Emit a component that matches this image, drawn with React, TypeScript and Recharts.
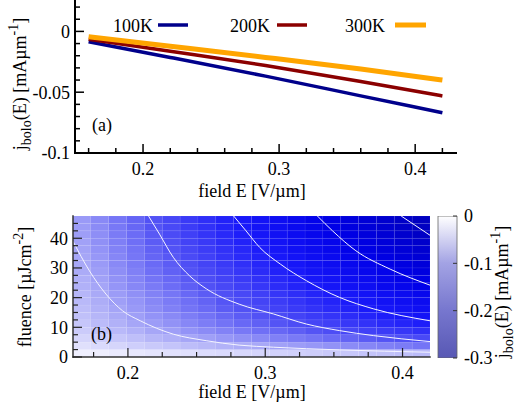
import React from "react";
import {
  Bar,
  BarChart,
  ComposedChart,
  Line,
  LineChart,
  ReferenceArea,
  XAxis,
  YAxis,
} from "recharts";

/* Two stacked panels: (a) j_bolo vs field for three temperatures,
   (b) j_bolo over field x fluence as a cell map with contours and colour bar. */

const FONT = "'Liberation Serif', 'Times New Roman', Tinos, 'DejaVu Serif', 'Noto Serif', serif";
const NAVY = "#00008b";
const DARK_RED = "#8b0000";
const ORANGE = "#ffa500";

// ---- panel (a)
const E_TOP = [0.16, 0.22, 0.29, 0.36, 0.42];
const J_100K = [-0.0085, -0.0214, -0.0368, -0.053, -0.0669];
const J_200K = [-0.0065, -0.0163, -0.028, -0.0412, -0.0531];
const J_300K = [-0.0044, -0.0122, -0.0214, -0.031, -0.04];

const TOP_X_TICKS = [0.16, 0.18, 0.2, 0.22, 0.24, 0.26, 0.28, 0.3, 0.32, 0.34, 0.36, 0.38, 0.4, 0.42];
const TOP_X_MAJOR = [0.2, 0.3, 0.4];
const TOP_Y_TICKS = [-0.1, -0.09, -0.08, -0.07, -0.06, -0.05, -0.04, -0.03, -0.02, -0.01, 0, 0.01, 0.02];
const TOP_Y_MAJOR = [-0.1, -0.05, 0];

// ---- panel (b)
const MAP_E_EDGES = [
  0.16, 0.173, 0.186, 0.199, 0.212, 0.225, 0.238, 0.251, 0.264, 0.277, 0.29,
  0.303, 0.316, 0.329, 0.342, 0.355, 0.368, 0.381, 0.394, 0.407, 0.42,
];
const MAP_F_EDGES = [
  0, 2.5, 5, 7.5, 10, 12.5, 15, 17.5, 20, 22.5, 25, 27.5, 30, 32.5, 35, 37.5, 40, 42.5, 45, 47.5,
];
// rows: fluence from bottom to top, columns: field from left to right
const MAP_J = [
  [-0.009, -0.010, -0.012, -0.013, -0.015, -0.017, -0.018, -0.020, -0.021, -0.023, -0.024, -0.026, -0.027, -0.029, -0.031, -0.032, -0.034, -0.035, -0.037, -0.039],
  [-0.018, -0.021, -0.024, -0.028, -0.031, -0.034, -0.038, -0.041, -0.044, -0.047, -0.050, -0.054, -0.057, -0.060, -0.063, -0.067, -0.070, -0.073, -0.076, -0.080],
  [-0.024, -0.029, -0.033, -0.037, -0.042, -0.046, -0.051, -0.055, -0.060, -0.064, -0.068, -0.073, -0.077, -0.081, -0.086, -0.090, -0.095, -0.099, -0.103, -0.108],
  [-0.030, -0.035, -0.040, -0.045, -0.051, -0.056, -0.062, -0.067, -0.072, -0.078, -0.083, -0.088, -0.093, -0.099, -0.104, -0.110, -0.115, -0.120, -0.125, -0.131],
  [-0.033, -0.039, -0.045, -0.051, -0.057, -0.063, -0.069, -0.075, -0.081, -0.087, -0.092, -0.099, -0.104, -0.111, -0.116, -0.123, -0.128, -0.135, -0.140, -0.146],
  [-0.036, -0.042, -0.049, -0.055, -0.062, -0.068, -0.075, -0.081, -0.088, -0.094, -0.100, -0.107, -0.113, -0.120, -0.126, -0.133, -0.140, -0.146, -0.153, -0.159],
  [-0.038, -0.045, -0.052, -0.059, -0.066, -0.073, -0.080, -0.086, -0.094, -0.100, -0.107, -0.114, -0.121, -0.128, -0.135, -0.142, -0.149, -0.156, -0.162, -0.170],
  [-0.040, -0.047, -0.055, -0.061, -0.069, -0.076, -0.083, -0.090, -0.098, -0.105, -0.112, -0.119, -0.126, -0.134, -0.141, -0.148, -0.155, -0.163, -0.170, -0.177],
  [-0.042, -0.049, -0.057, -0.064, -0.072, -0.079, -0.087, -0.094, -0.102, -0.109, -0.117, -0.125, -0.132, -0.140, -0.147, -0.155, -0.162, -0.170, -0.177, -0.185],
  [-0.045, -0.052, -0.061, -0.069, -0.077, -0.085, -0.093, -0.101, -0.109, -0.117, -0.125, -0.133, -0.141, -0.149, -0.157, -0.166, -0.173, -0.182, -0.189, -0.198],
  [-0.046, -0.054, -0.063, -0.071, -0.080, -0.087, -0.096, -0.104, -0.113, -0.121, -0.129, -0.138, -0.145, -0.154, -0.162, -0.171, -0.179, -0.188, -0.196, -0.204],
  [-0.048, -0.056, -0.065, -0.073, -0.083, -0.091, -0.100, -0.108, -0.117, -0.125, -0.134, -0.143, -0.151, -0.160, -0.168, -0.177, -0.186, -0.195, -0.203, -0.212],
  [-0.050, -0.058, -0.068, -0.076, -0.086, -0.094, -0.103, -0.112, -0.121, -0.130, -0.139, -0.148, -0.156, -0.166, -0.174, -0.184, -0.192, -0.202, -0.210, -0.220],
  [-0.051, -0.060, -0.070, -0.079, -0.089, -0.097, -0.107, -0.116, -0.126, -0.135, -0.143, -0.153, -0.162, -0.172, -0.181, -0.190, -0.199, -0.209, -0.218, -0.227],
  [-0.053, -0.062, -0.072, -0.081, -0.091, -0.100, -0.110, -0.119, -0.129, -0.138, -0.147, -0.157, -0.167, -0.177, -0.186, -0.196, -0.205, -0.215, -0.224, -0.234],
  [-0.054, -0.064, -0.074, -0.083, -0.094, -0.103, -0.113, -0.122, -0.133, -0.142, -0.151, -0.162, -0.171, -0.181, -0.191, -0.201, -0.210, -0.221, -0.230, -0.240],
  [-0.056, -0.065, -0.076, -0.085, -0.096, -0.106, -0.116, -0.126, -0.136, -0.146, -0.156, -0.166, -0.176, -0.186, -0.196, -0.206, -0.216, -0.227, -0.236, -0.247],
  [-0.057, -0.067, -0.078, -0.088, -0.099, -0.108, -0.119, -0.129, -0.140, -0.150, -0.160, -0.170, -0.180, -0.191, -0.201, -0.212, -0.222, -0.232, -0.242, -0.253],
  [-0.058, -0.068, -0.079, -0.089, -0.100, -0.110, -0.121, -0.131, -0.142, -0.152, -0.162, -0.173, -0.183, -0.194, -0.204, -0.215, -0.225, -0.236, -0.246, -0.257],
];

// iso-lines at -0.05 ... -0.25, as [field, fluence]
const ISO_005 = [[0.16, 39], [0.172, 29], [0.184, 21.2], [0.196, 15.6], [0.209, 12.2], [0.233, 7.7], [0.257, 5.5], [0.281, 4.0], [0.306, 3.3], [0.354, 2.4], [0.42, 1.6]];
const ISO_010 = [[0.215, 47.5], [0.223, 41.4], [0.233, 33.6], [0.245, 27.3], [0.257, 23.0], [0.281, 17.8], [0.306, 14.5], [0.33, 11.1], [0.354, 8.9], [0.379, 7.2], [0.42, 5.2]];
const ISO_015 = [[0.277, 47.5], [0.286, 42.5], [0.296, 36.9], [0.311, 31.3], [0.33, 25.7], [0.354, 20.1], [0.379, 16.2], [0.42, 12.2]];
const ISO_020 = [[0.338, 47.5], [0.349, 42.5], [0.366, 35.8], [0.391, 29.6], [0.42, 24.2]];
const ISO_025 = [[0.399, 47.5], [0.42, 41]];
const ISO_LINES = [ISO_005, ISO_010, ISO_015, ISO_020, ISO_025];

const MAP_X_TICKS = [0.175, 0.2, 0.225, 0.25, 0.275, 0.3, 0.325, 0.35, 0.375, 0.4];
const MAP_X_MAJOR = [0.2, 0.3, 0.4];
const MAP_Y_TICKS = [0, 2.5, 5, 7.5, 10, 12.5, 15, 17.5, 20, 22.5, 25, 27.5, 30, 32.5, 35, 37.5, 40, 42.5, 45];
const MAP_Y_MAJOR = [0, 10, 20, 30, 40];

const CB_RANGE = [-0.3, 0];
const CB_TICKS = [0, -0.1, -0.2, -0.3];

// colour scale of the map: white -> blue -> deep blue
const MAP_STOPS: [number, number[]][] = [
  [0, [255, 255, 255]],
  [-0.05, [168, 168, 247]],
  [-0.1, [82, 82, 245]],
  [-0.15, [25, 25, 250]],
  [-0.2, [0, 0, 232]],
  [-0.25, [0, 0, 196]],
  [-0.3, [0, 0, 165]],
];

function mapColor(v: number) {
  for (let i = 0; i < MAP_STOPS.length - 1; i++) {
    const [v0, c0] = MAP_STOPS[i];
    const [v1, c1] = MAP_STOPS[i + 1];
    if (v <= v0 && v >= v1) {
      const t = (v0 - v) / (v0 - v1);
      const c = c0.map((k, j) => Math.round(k + (c1[j] - k) * t));
      return `rgb(${c[0]},${c[1]},${c[2]})`;
    }
  }
  const last = MAP_STOPS[MAP_STOPS.length - 1][1];
  return `rgb(${last[0]},${last[1]},${last[2]})`;
}

type Side = "bottom" | "top" | "left" | "right";
type TickStyle = { major: number; minor: number; color: string; width: number };

// inward tick marks on the frame, with labels outside for major values
function frameTick(side: Side, majors: number[], style: TickStyle, labelled: boolean) {
  return function FrameTick(props: any) {
    const x = Number(props.x);
    const y = Number(props.y);
    const v = Number(props.payload?.value);
    const big = majors.some((m) => Math.abs(m - v) < 1e-9);
    const len = big ? style.major : style.minor;
    const dx = side === "left" ? len : side === "right" ? -len : 0;
    const dy = side === "bottom" ? -len : side === "top" ? len : 0;
    const text = big && labelled ? String(v) : null;
    return (
      <g>
        <line x1={x} y1={y} x2={x + dx} y2={y + dy} stroke={style.color} strokeWidth={style.width} />
        {text !== null && side === "bottom" && (
          <text x={x} y={y + 22} textAnchor="middle" fontSize={18} fontFamily={FONT} fill="#000">
            {text}
          </text>
        )}
        {text !== null && side === "left" && (
          <text x={x - 5} y={y} dy="0.35em" textAnchor="end" fontSize={18} fontFamily={FONT} fill="#000">
            {text}
          </text>
        )}
        {text !== null && side === "right" && (
          <text x={x + 7} y={y} dy="0.35em" textAnchor="start" fontSize={18} fontFamily={FONT} fill="#000">
            {text}
          </text>
        )}
      </g>
    );
  };
}

const TOP_TICK: TickStyle = { major: 9, minor: 5, color: "#000", width: 1.5 };
const MAP_TICK: TickStyle = { major: 9, minor: 5, color: "#222", width: 1.2 };
const TOP_FRAME = { stroke: "#000", strokeWidth: 2, strokeLinecap: "square" as const };
const MAP_FRAME = { stroke: "#333", strokeWidth: 1.5, strokeLinecap: "square" as const };

function FieldTrace() {
  const data = E_TOP.map((E, i) => ({ E, j100: J_100K[i], j200: J_200K[i], j300: J_300K[i] }));
  return (
    <LineChart width={521} height={200} data={data} margin={{ top: 1, right: 65, bottom: 0, left: 15 }}>
      <Line dataKey="j100" stroke={NAVY} strokeWidth={3.5} dot={false} type="monotone" isAnimationActive={false} />
      <Line dataKey="j200" stroke={DARK_RED} strokeWidth={3.5} dot={false} type="monotone" isAnimationActive={false} />
      <Line dataKey="j300" stroke={ORANGE} strokeWidth={5} dot={false} type="monotone" isAnimationActive={false} />
      <XAxis
        dataKey="E"
        type="number"
        domain={[0.15, 0.43]}
        allowDataOverflow
        ticks={TOP_X_TICKS}
        interval={0}
        height={47}
        tickSize={0}
        tickMargin={0}
        tickLine={false}
        axisLine={TOP_FRAME}
        tick={frameTick("bottom", TOP_X_MAJOR, TOP_TICK, true)}
      />
      <XAxis
        xAxisId="top"
        orientation="top"
        dataKey="E"
        type="number"
        domain={[0.15, 0.43]}
        allowDataOverflow
        ticks={TOP_X_TICKS}
        interval={0}
        height={0}
        tickSize={0}
        tickMargin={0}
        tickLine={false}
        axisLine={TOP_FRAME}
        tick={frameTick("top", TOP_X_MAJOR, TOP_TICK, false)}
      />
      <YAxis
        type="number"
        domain={[-0.1, 0.025]}
        allowDataOverflow
        ticks={TOP_Y_TICKS}
        interval={0}
        width={60}
        tickSize={0}
        tickMargin={0}
        tickLine={false}
        axisLine={TOP_FRAME}
        tick={frameTick("left", TOP_Y_MAJOR, TOP_TICK, true)}
      />
      <YAxis
        yAxisId="right"
        orientation="right"
        type="number"
        domain={[-0.1, 0.025]}
        allowDataOverflow
        ticks={TOP_Y_TICKS}
        interval={0}
        width={0}
        tickSize={0}
        tickMargin={0}
        tickLine={false}
        axisLine={TOP_FRAME}
        tick={frameTick("right", TOP_Y_MAJOR, TOP_TICK, false)}
      />
    </LineChart>
  );
}

function FluenceMap() {
  return (
    <ComposedChart width={521} height={205} margin={{ top: 16, right: 91, bottom: 0, left: 13 }}>
      {MAP_J.map((row, r) =>
        row.map((v, c) => (
          <ReferenceArea
            key={`${r}-${c}`}
            x1={MAP_E_EDGES[c]}
            x2={MAP_E_EDGES[c + 1]}
            y1={MAP_F_EDGES[r]}
            y2={MAP_F_EDGES[r + 1]}
            fill={mapColor(v)}
            fillOpacity={1}
            stroke="#ffffff"
            strokeOpacity={0.07}
            strokeWidth={0.6}
            ifOverflow="visible"
          />
        )),
      )}
      {ISO_LINES.map((pts, i) => (
        <Line
          key={i}
          data={pts.map(([E, F]) => ({ E, F }))}
          dataKey="F"
          stroke="#f4f4ff"
          strokeWidth={1}
          dot={false}
          type="monotone"
          isAnimationActive={false}
        />
      ))}
      <XAxis
        dataKey="E"
        type="number"
        domain={[0.16, 0.42]}
        allowDataOverflow
        ticks={MAP_X_TICKS}
        interval={0}
        height={48}
        tickSize={0}
        tickMargin={0}
        tickLine={false}
        axisLine={MAP_FRAME}
        tick={frameTick("bottom", MAP_X_MAJOR, MAP_TICK, true)}
      />
      <XAxis
        xAxisId="top"
        orientation="top"
        dataKey="E"
        type="number"
        domain={[0.16, 0.42]}
        allowDataOverflow
        ticks={MAP_X_TICKS}
        interval={0}
        height={0}
        tickSize={0}
        tickMargin={0}
        tickLine={false}
        axisLine={MAP_FRAME}
        tick={frameTick("top", MAP_X_MAJOR, MAP_TICK, false)}
      />
      <YAxis
        type="number"
        domain={[0, 47.5]}
        allowDataOverflow
        ticks={MAP_Y_TICKS}
        interval={0}
        width={60}
        tickSize={0}
        tickMargin={0}
        tickLine={false}
        axisLine={MAP_FRAME}
        tick={frameTick("left", MAP_Y_MAJOR, MAP_TICK, true)}
      />
      <YAxis
        yAxisId="right"
        orientation="right"
        type="number"
        domain={[0, 47.5]}
        allowDataOverflow
        ticks={MAP_Y_TICKS}
        interval={0}
        width={0}
        tickSize={0}
        tickMargin={0}
        tickLine={false}
        axisLine={MAP_FRAME}
        tick={frameTick("right", MAP_Y_MAJOR, MAP_TICK, false)}
      />
    </ComposedChart>
  );
}

function ColourBar() {
  const data = [{ name: "j", range: CB_RANGE }];
  return (
    <BarChart
      width={91}
      height={205}
      data={data}
      margin={{ top: 16, right: 24, bottom: 47, left: 8 }}
      barCategoryGap={0}
    >
      <defs>
        <linearGradient id="cbFill" x1="0" y1="0" x2="0" y2="1">
          <stop offset="0%" stopColor="#ffffff" />
          <stop offset="33%" stopColor="#a3a3e4" />
          <stop offset="67%" stopColor="#7676ce" />
          <stop offset="100%" stopColor="#5858b4" />
        </linearGradient>
      </defs>
      <XAxis dataKey="name" type="category" hide />
      <Bar dataKey="range" fill="url(#cbFill)" stroke="#666" strokeWidth={0.8} isAnimationActive={false} />
      <YAxis
        orientation="right"
        type="number"
        domain={[-0.3, 0]}
        allowDataOverflow
        ticks={CB_TICKS}
        interval={0}
        width={40}
        tickSize={0}
        tickMargin={0}
        tickLine={false}
        axisLine={false}
        tick={frameTick("right", CB_TICKS, { major: 4, minor: 4, color: "#333", width: 1 }, true)}
      />
    </BarChart>
  );
}

function JTitle({ x, y }: { x: number; y: number }) {
  return (
    <text transform={`translate(${x},${y}) rotate(-90)`} textAnchor="middle" fontSize={18}>
      j<tspan dy={5} fontSize={14}>bolo</tspan>
      <tspan dy={-5}>(E) [mAµm</tspan>
      <tspan dy={-8} fontSize={14}>-1</tspan>
      <tspan dy={8}>]</tspan>
    </text>
  );
}

function Annotations() {
  return (
    <svg
      width={521}
      height={405}
      style={{ position: "absolute", left: 0, top: 0, pointerEvents: "none", fontFamily: FONT }}
      fill="#000"
    >
      {/* legend of panel (a) */}
      <text x={113} y={32} fontSize={18}>100K</text>
      <line x1={158} x2={188} y1={25} y2={25} stroke={NAVY} strokeWidth={3.5} />
      <text x={230} y={32} fontSize={18}>200K</text>
      <line x1={277} x2={307} y1={25} y2={25} stroke={DARK_RED} strokeWidth={3.5} />
      <text x={345} y={32} fontSize={18}>300K</text>
      <line x1={395} x2={426} y1={25} y2={25} stroke={ORANGE} strokeWidth={5} />

      <text x={92} y={131} fontSize={18}>(a)</text>
      <text x={91} y={340} fontSize={18}>(b)</text>

      <text x={252} y={197} fontSize={18} textAnchor="middle">field E [V/µm]</text>
      <text x={252} y={398} fontSize={18} textAnchor="middle">field E [V/µm]</text>

      <JTitle x={26} y={84} />
      <JTitle x={508} y={292} />
      <text transform="translate(31,287) rotate(-90)" textAnchor="middle" fontSize={18}>
        fluence [µJcm<tspan dy={-8} fontSize={14}>-2</tspan>
        <tspan dy={8}>]</tspan>
      </text>
    </svg>
  );
}

export default function App() {
  return (
    <div
      style={{
        position: "absolute",
        left: 0,
        top: 0,
        width: 521,
        height: 405,
        background: "#fff",
        fontFamily: FONT,
        overflow: "hidden",
      }}
    >
      <div style={{ position: "absolute", left: 0, top: 0 }}>
        <FieldTrace />
      </div>
      <div style={{ position: "absolute", left: 0, top: 200 }}>
        <FluenceMap />
      </div>
      <div style={{ position: "absolute", left: 430, top: 200 }}>
        <ColourBar />
      </div>
      <Annotations />
    </div>
  );
}
